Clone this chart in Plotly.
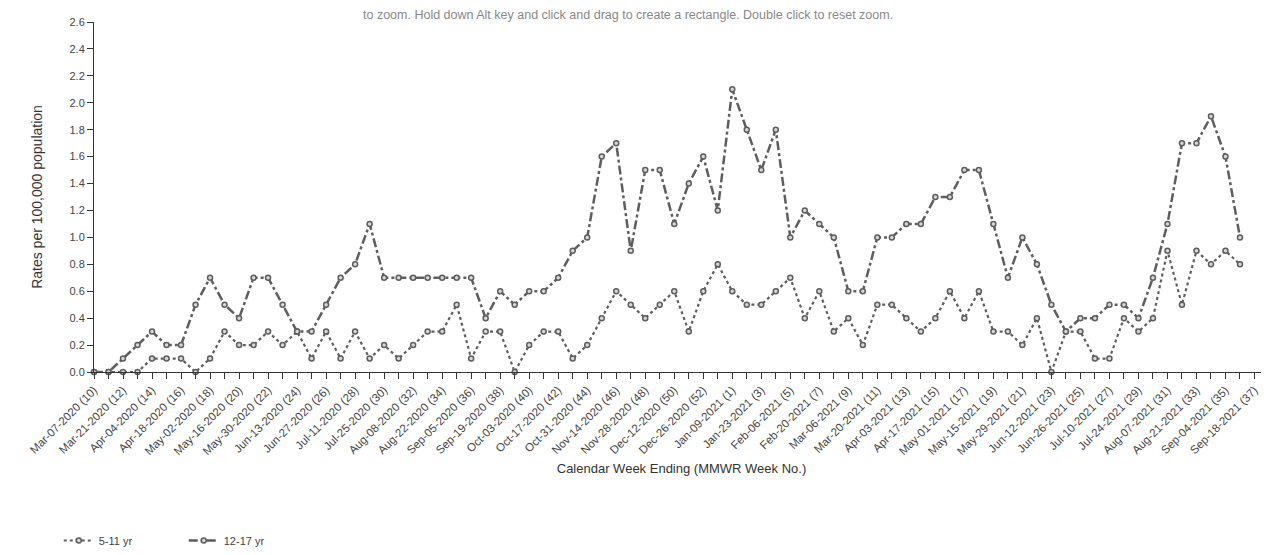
import plotly.graph_objects as go
from datetime import date, timedelta

# ---- data -------------------------------------------------------------
start_week = date(2020, 3, 7)          # MMWR week 10 of 2020
n_weeks = 81                            # through Sep-18-2021 (week 37)
weeks = []
for k in range(n_weeks):
    d = start_week + timedelta(weeks=k)
    wk = 10 + k if k < 44 else k - 43
    weeks.append(d.strftime("%b-%d-%Y") + f" ({wk})")

rate_5_11 = [
    0.0, 0.0, 0.0, 0.0, 0.1, 0.1, 0.1, 0.0, 0.1, 0.3,
    0.2, 0.2, 0.3, 0.2, 0.3, 0.1, 0.3, 0.1, 0.3, 0.1,
    0.2, 0.1, 0.2, 0.3, 0.3, 0.5, 0.1, 0.3, 0.3, 0.0,
    0.2, 0.3, 0.3, 0.1, 0.2, 0.4, 0.6, 0.5, 0.4, 0.5,
    0.6, 0.3, 0.6, 0.8, 0.6, 0.5, 0.5, 0.6, 0.7, 0.4,
    0.6, 0.3, 0.4, 0.2, 0.5, 0.5, 0.4, 0.3, 0.4, 0.6,
    0.4, 0.6, 0.3, 0.3, 0.2, 0.4, 0.0, 0.3, 0.3, 0.1,
    0.1, 0.4, 0.3, 0.4, 0.9, 0.5, 0.9, 0.8, 0.9, 0.8,
]
rate_12_17 = [
    0.0, 0.0, 0.1, 0.2, 0.3, 0.2, 0.2, 0.5, 0.7, 0.5,
    0.4, 0.7, 0.7, 0.5, 0.3, 0.3, 0.5, 0.7, 0.8, 1.1,
    0.7, 0.7, 0.7, 0.7, 0.7, 0.7, 0.7, 0.4, 0.6, 0.5,
    0.6, 0.6, 0.7, 0.9, 1.0, 1.6, 1.7, 0.9, 1.5, 1.5,
    1.1, 1.4, 1.6, 1.2, 2.1, 1.8, 1.5, 1.8, 1.0, 1.2,
    1.1, 1.0, 0.6, 0.6, 1.0, 1.0, 1.1, 1.1, 1.3, 1.3,
    1.5, 1.5, 1.1, 0.7, 1.0, 0.8, 0.5, 0.3, 0.4, 0.4,
    0.5, 0.5, 0.4, 0.7, 1.1, 1.7, 1.7, 1.9, 1.6, 1.0,
]
series_names = ["5-11 yr", "12-17 yr"]
y_ticks = [round(0.2 * i, 1) for i in range(14)]

# ---- figure -----------------------------------------------------------
line_col = "#5e5e5e"
fig = go.Figure()
fig.add_trace(go.Scatter(
    x=weeks[:len(rate_5_11)], y=rate_5_11, name=series_names[0],
    mode="lines+markers", cliponaxis=False,
    line=dict(color=line_col, width=2.2, dash="dot"),
    marker=dict(symbol="circle", size=5, color="#d8d8d8",
                line=dict(color=line_col, width=1.5)),
))
fig.add_trace(go.Scatter(
    x=weeks[:len(rate_12_17)], y=rate_12_17, name=series_names[1],
    mode="lines+markers", cliponaxis=False,
    line=dict(color=line_col, width=2.5, dash="dashdot"),
    marker=dict(symbol="circle", size=5, color="#d8d8d8",
                line=dict(color=line_col, width=1.5)),
))

tick_text = [w if i % 2 == 0 else "" for i, w in enumerate(weeks)]

fig.update_layout(
    width=1269, height=555,
    margin=dict(l=86, r=8, t=14, b=183),
    paper_bgcolor="white", plot_bgcolor="white",
    font=dict(family="Arial, Liberation Sans, sans-serif", size=11, color="#333333"),
    showlegend=True,
    legend=dict(orientation="h", x=-0.03, xanchor="left", y=-0.44, yanchor="top",
                font=dict(size=11, color="#444444"), itemwidth=30,
                entrywidth=80, entrywidthmode="pixels",
                bgcolor="rgba(0,0,0,0)"),
    xaxis=dict(
        type="category", categoryorder="array", categoryarray=weeks,
        range=[0, n_weeks], showgrid=False, zeroline=False,
        showline=True, linecolor="#333333", linewidth=1,
        ticks="outside", ticklen=6, tickcolor="#333333",
        tickmode="array", tickvals=weeks, ticktext=tick_text,
        tickangle=-45, tickfont=dict(size=11.5, color="#444444"),
        title=dict(text="Calendar Week Ending (MMWR Week No.)",
                   font=dict(size=13, color="#333333"), standoff=7),
    ),
    yaxis=dict(
        range=[0, 2.6], showgrid=False, zeroline=False,
        showline=True, linecolor="#333333", linewidth=1,
        ticks="outside", ticklen=6, tickcolor="#333333",
        tickmode="array", tickvals=y_ticks, tickformat=".1f",
        tickfont=dict(size=11, color="#444444"),
        title=dict(text="Rates per 100,000 population",
                   font=dict(size=14, color="#333333"), standoff=23),
    ),
)

fig.add_annotation(
    text="to zoom. Hold down Alt key and click and drag to create a rectangle. Double click to reset zoom.",
    xref="paper", yref="paper", x=(620 - 86) / 1175, y=1 + 16 / 358,
    xanchor="center", yanchor="top", showarrow=False,
    font=dict(size=12.5, color="#888888"),
)

fig.write_html("out.html")
